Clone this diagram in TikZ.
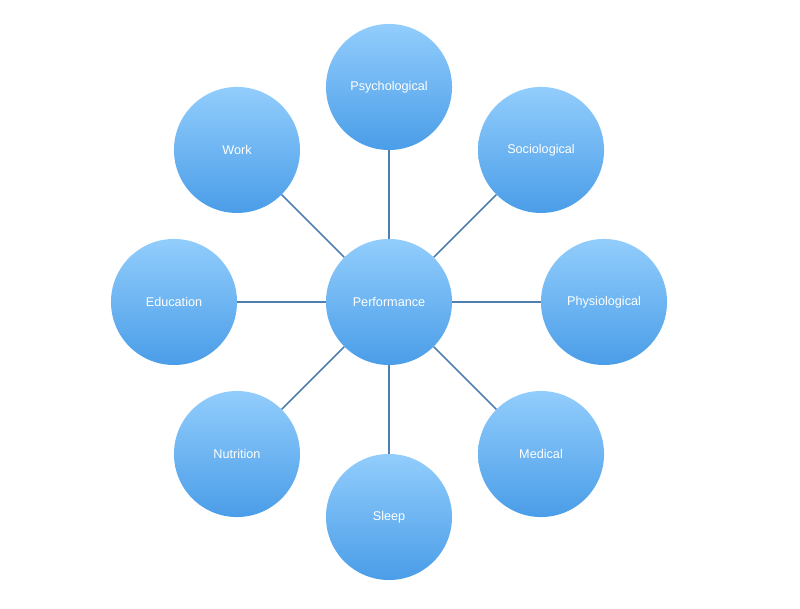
\documentclass[tikz,border=0pt]{standalone}
\usepackage{fontspec}
\setmainfont{Liberation Sans}
\usetikzlibrary{calc}
\definecolor{bubbletop}{HTML}{92CDFC}
\definecolor{bubblebot}{HTML}{4A9DE8}
\definecolor{spoke}{HTML}{4F7FAE}
\tikzset{
  bubble/.style={circle,minimum size=3.15cm,inner sep=0pt,
    top color=bubbletop,bottom color=bubblebot,draw=none,
    text=white,font=\fontsize{9}{11}\selectfont},
  spokeline/.style={draw=spoke,line width=1.1pt}
}
\begin{document}
\begin{tikzpicture}[x=0.025cm,y=0.025cm]%
  \useasboundingbox (0,0) rectangle (800,609);
  \node[bubble] (perf) at (389,307) {Performance};%
  % Outer factors, counterclockwise from the right
  \foreach \ang/\name/\txt in {%
      0/phys/Physiological,%
      45/soc/Sociological,%
      90/psy/Psychological,%
      135/work/Work,%
      180/edu/Education,%
      225/nutr/Nutrition,%
      270/sleep/Sleep,%
      315/med/Medical%
    }{%
      \node[bubble] (\name) at ($(perf)+(\ang:215)$) {\txt};%
      \draw[spokeline] (perf) -- (\name);%
    };%
\end{tikzpicture}
\end{document}
